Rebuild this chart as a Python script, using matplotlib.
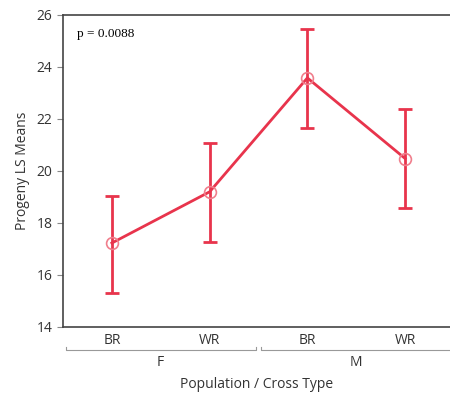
import matplotlib.pyplot as plt

categories = ["BR", "WR", "BR", "WR"]
groups = ["F", "M"]
means = [17.23, 19.2, 23.58, 20.48]
upper = [19.02, 21.08, 25.48, 22.38]
lower = [15.32, 17.28, 21.64, 18.58]

red = "#e8344c"
plt.rcParams['font.family'] = ['Open Sans', 'DejaVu Sans']

fig = plt.figure(figsize=(4.5, 4.0), dpi=100)
ax = fig.add_axes([63 / 450, 73 / 400, 391 / 450, 312 / 400])

x = [i + 0.5 for i in range(len(means))]
yerr = [[m - l for m, l in zip(means, lower)], [u - m for m, u in zip(means, upper)]]
ax.plot(x, means, color=red, lw=2, zorder=2)
ax.errorbar(x, means, yerr=yerr, fmt="none", ecolor=red, elinewidth=2,
            capsize=5, capthick=2, zorder=3)
ax.plot(x, means, "o", ms=8.5, mfc="none", mec="#f07e8c", mew=1.2, zorder=4)

ax.set_xlim(0, 4)
ax.set_ylim(14, 26)
ax.set_yticks(range(14, 27, 2))
ax.set_xticks(x)
ax.set_xticklabels(categories, fontsize=10, color="#333333")
ax.tick_params(axis="x", length=0, pad=4)
ax.tick_params(axis="y", length=4, color="#888888", labelsize=10, labelcolor="#333333")
ax.spines["right"].set_visible(False)
for s in ["left", "top", "bottom"]:
    ax.spines[s].set_color("#444444")
    ax.spines[s].set_linewidth(1.2)

ax.set_ylabel("Progeny LS Means", fontsize=10, color="#333333", labelpad=5)
ax.text(0.035, 0.94, "p = 0.0088", transform=ax.transAxes, fontsize=9.5,
        family="Liberation Serif", va="center")

# group brackets below tick labels
for i, g in enumerate(groups):
    x0, x1 = 2 * i + 0.03, 2 * i + 1.97
    yb, ye = -0.074, -0.064
    ax.plot([x0, x0, x1, x1], [ye, yb, yb, ye], color="#999999", lw=0.8,
            transform=ax.get_xaxis_transform(), clip_on=False)
    ax.text(2 * i + 1, -0.115, g, transform=ax.get_xaxis_transform(),
            ha="center", va="center", fontsize=10, color="#333333")

fig.text(257 / 450, 1 - 385 / 400, "Population / Cross Type", ha="center",
         va="center", fontsize=10, color="#333333")

fig.savefig("out.png", dpi=100)
